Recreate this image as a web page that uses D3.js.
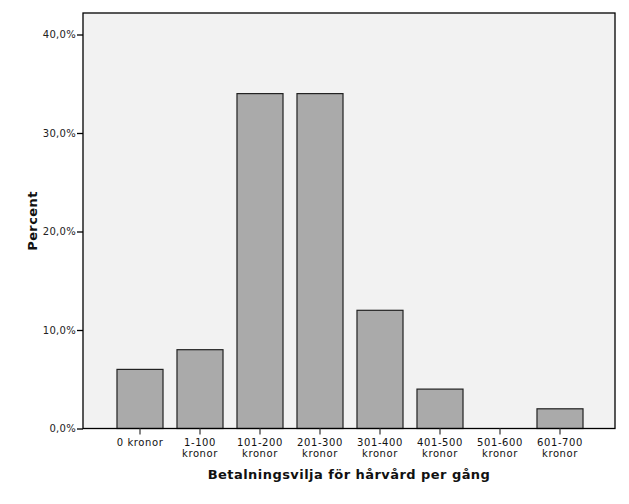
<!DOCTYPE html>
<html><head><meta charset="utf-8">
<script src="https://cdn.jsdelivr.net/npm/d3@7"></script>
<style>body{margin:0;background:#fff}svg{display:block}</style>
</head><body>
<script>
const categories = ["0 kronor","1-100 kronor","101-200 kronor","201-300 kronor","301-400 kronor","401-500 kronor","501-600 kronor","601-700 kronor"];
const labelLines = [["0 kronor"],["1-100","kronor"],["101-200","kronor"],["201-300","kronor"],["301-400","kronor"],["401-500","kronor"],["501-600","kronor"],["601-700","kronor"]];
const percents = [6, 8, 34, 34, 12, 4, 0, 2];
const yTicks = [0, 10, 20, 30, 40];
const xTitle = "Betalningsvilja för hårvård per gång";
const yTitle = "Percent";

const W = 629, H = 504;
const plot = {l: 83, t: 13, r: 615, b: 428.5};
const svg = d3.select("body").append("svg").attr("width", W).attr("height", H);
const font = "DejaVu Sans, Verdana, sans-serif";

svg.append("rect").attr("x", plot.l).attr("y", plot.t).attr("width", plot.r - plot.l).attr("height", plot.b - plot.t)
  .attr("fill", "#f2f2f2").attr("stroke", "none");

const x = d3.scaleBand().domain(categories).range([110, 590]).paddingInner(0.233).paddingOuter(0.1165);
const y = d3.scaleLinear().domain([0, 40]).range([plot.b, 34.5]);

svg.selectAll("rect.bar").data(percents).join("rect").attr("class", "bar")
  .attr("x", (d, i) => x(categories[i]))
  .attr("y", d => y(d))
  .attr("width", x.bandwidth())
  .attr("height", d => plot.b - y(d))
  .attr("fill", "#aaaaaa")
  .attr("stroke", d => d > 0 ? "#222" : "none").attr("stroke-width", 1.2);

// frame
svg.append("rect").attr("x", plot.l).attr("y", plot.t).attr("width", plot.r - plot.l).attr("height", plot.b - plot.t)
  .attr("fill", "none").attr("stroke", "#000").attr("stroke-width", 1.3);

// y axis
const yAxis = svg.append("g").attr("transform", `translate(${plot.l},0)`)
  .call(d3.axisLeft(y).tickValues(yTicks).tickSize(6).tickPadding(1).tickFormat(d => d.toFixed(1).replace(".", ",") + "%"));
yAxis.select(".domain").remove();
yAxis.selectAll("line").attr("stroke", "#000").attr("stroke-width", 1.3);
yAxis.selectAll("text").attr("font-family", font).attr("font-size", 10).attr("letter-spacing", 0.3).attr("fill", "#222");

// x axis
const xAxis = svg.append("g").attr("transform", `translate(0,${plot.b})`)
  .call(d3.axisBottom(x).tickSize(6).tickFormat(""));
xAxis.select(".domain").remove();
xAxis.selectAll("line").attr("stroke", "#444").attr("stroke-width", 1.3);
xAxis.selectAll(".tick").each(function(d, i) {
  const t = d3.select(this).append("text").attr("fill", "#111").attr("font-family", font).attr("font-size", 10)
    .attr("letter-spacing", 0.6).attr("text-anchor", "middle");
  labelLines[i].forEach((ln, k) => t.append("tspan").attr("x", 0).attr("y", 17 + k * 11).text(ln));
});

svg.append("text").attr("x", 349).attr("y", 479).attr("text-anchor", "middle")
  .attr("font-family", font).attr("font-weight", "bold").attr("font-size", 13).attr("letter-spacing", 0.45)
  .attr("fill", "#111").text(xTitle);
svg.append("text").attr("transform", "translate(37,221) rotate(-90)").attr("text-anchor", "middle")
  .attr("font-family", font).attr("font-weight", "bold").attr("font-size", 13).attr("letter-spacing", 0.4)
  .attr("fill", "#111").text(yTitle);
</script>
</body></html>
